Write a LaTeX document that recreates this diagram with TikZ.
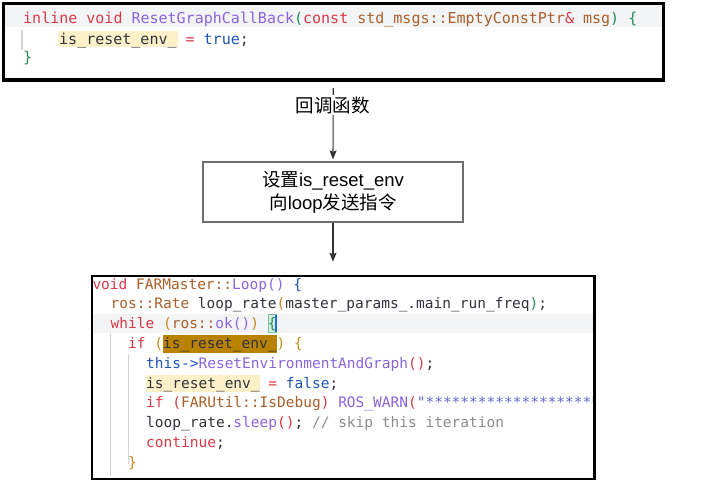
\documentclass[tikz,border=0pt]{standalone}
\usepackage{fontspec}
\setmainfont{Liberation Sans}
\newfontfamily\cjk{Noto Sans CJK SC}
\newfontfamily\codefont{DejaVu Sans Mono}
\usetikzlibrary{arrows.meta}
\definecolor{cdf}{RGB}{50,50,60}
\definecolor{ckw}{RGB}{215,58,73}
\definecolor{cfn}{RGB}{140,100,220}
\definecolor{cty}{RGB}{170,95,40}
\definecolor{cbl}{RGB}{30,85,180}
\definecolor{cgr}{RGB}{35,140,90}
\definecolor{cog}{RGB}{200,140,30}
\definecolor{cst}{RGB}{100,100,210}
\definecolor{ccm}{RGB}{140,140,140}
\definecolor{hldark}{RGB}{185,130,0}
\definecolor{hllight}{RGB}{252,240,200}
\definecolor{bandgray}{RGB}{243,244,246}
\definecolor{guidegray}{RGB}{210,210,214}
\definecolor{boxgray}{RGB}{110,110,110}
\definecolor{arrgray}{RGB}{50,50,50}
\definecolor{curblue}{RGB}{30,110,230}
\definecolor{bracegreen}{RGB}{215,240,220}
\newcommand\kw[1]{\textcolor{ckw}{#1}}
\newcommand\fn[1]{\textcolor{cfn}{#1}}
\newcommand\ty[1]{\textcolor{cty}{#1}}
\newcommand\bl[1]{\textcolor{cbl}{#1}}
\newcommand\gr[1]{\textcolor{cgr}{#1}}
\newcommand\og[1]{\textcolor{cog}{#1}}
\newcommand\st[1]{\textcolor{cst}{#1}}
\newcommand\cm[1]{\textcolor{ccm}{#1}}
\tikzset{
  codeA/.style={anchor=base west, inner sep=0pt, text=cdf, font=\codefont\fontsize{15}{20}\selectfont},
  codeB/.style={anchor=base west, inner sep=0pt, text=cdf, font=\codefont\fontsize{14.5}{19.8}\selectfont},
  codebox/.style={draw=black, inner sep=0pt},
  stepbox/.style={draw=boxgray, line width=1.2pt, inner sep=0pt, align=center, text=black,
    font=\fontsize{18.5}{23}\selectfont},
  guide/.style={draw=guidegray, line width=1pt},
  arr/.style={draw=arrgray, line width=1.1pt, -{Stealth[length=9pt,width=7pt,inset=1.5pt]}},
  lbl/.style={fill=white, inner sep=1pt, text=black, font=\cjk\fontsize{18.5}{22}\selectfont}
}
\begin{document}
\begin{tikzpicture}[x=1pt,y=-1pt]
\useasboundingbox (0,0) rectangle (716,498);
\fill[white] (0,0) rectangle (716,498);

% ---------- top code box ----------
\fill[bandgray] (5,5) rectangle (662,26.5);
\fill[hllight] (58,31) rectangle (178,47);
\draw[guide, line width=1.4pt] (22,30) -- (22,50);
\node[codeA] (t1) at (23,23.5) {\kw{inline void} \fn{ResetGraphCallBack}\gr{(}\kw{const} \ty{std\_msgs::EmptyConstPtr}\kw{\&} \ty{msg}\gr{)} \gr{\{}};
\node[codeA] (t2) at (59,44) {is\_reset\_env\_ \kw{=} \bl{true}\textcolor{cdf}{;}};
\node[codeA] (t3) at (23,62.5) {\gr{\}}};
\node[codebox, line width=3.3pt, minimum width=660pt, minimum height=76.7pt] (topbox) at (333.3,41.65) {};

% ---------- middle step box ----------
\node[stepbox, minimum width=260pt, minimum height=60pt] (mid) at (333,192)
  {{\cjk 设置}is\_reset\_env\\{\cjk 向}loop{\cjk 发送指令}};

% ---------- bottom code box ----------
\fill[bandgray] (93,314) rectangle (594,333);
\fill[hldark] (162.5,334.5) rectangle (277,352.5);
\fill[hllight] (145.5,375) rectangle (260,391.5);
\fill[bracegreen] (268,314.5) rectangle (276.5,332.5);
\draw[cgr!60, line width=0.6pt] (268,314.5) rectangle (276.5,332.5);
\draw[curblue, line width=1.6pt] (276,315) -- (276,332);
\draw[guide] (110.5,333.5) -- (110.5,476);
\draw[guide] (128.5,353.5) -- (128.5,464);
\begin{scope}
\clip (93.3,277.3) rectangle (593.2,477.7);
\node[codeB] (b1) at (92.3,289) {\kw{void} \ty{FARMaster::}\fn{Loop()} \bl{\{}};
\node[codeB] (b2) at (110.5,308.8) {\ty{ros::Rate} loop\_rate\og{(}master\_params\_.main\_run\_freq\gr{)};};
\node[codeB] (b3) at (110.5,328.6) {\kw{while} \og{(}\ty{ros::}\fn{ok()}\og{)} \gr{\{}};
\node[codeB] (b4) at (128,348.4) {\kw{if} \og{(}is\_reset\_env\_\og{)} \og{\{}};
\node[codeB] (b5) at (146,368.2) {\bl{this->}\fn{ResetEnvironmentAndGraph}\kw{()};};
\node[codeB] (b6) at (146,388) {is\_reset\_env\_ \kw{=} \bl{false};};
\node[codeB] (b7) at (146,407.8) {\kw{if (}\ty{FARUtil::IsDebug}\kw{)} \fn{ROS\_WARN}\kw{(}\st{"************************}};
\node[codeB] (b8) at (146,427.6) {loop\_rate.\fn{sleep}\kw{()}; \cm{// skip this iteration}};
\node[codeB] (b9) at (146,447.4) {\kw{continue};};
\node[codeB] (b10) at (128,467.2) {\og{\}}};
\end{scope}
\node[codebox, line width=2.5pt, minimum width=502.5pt, minimum height=203pt] (botbox) at (343.25,377.5) {};

% ---------- connectors ----------
\draw[arr, shorten <=6.5pt, shorten >=2pt] (topbox.south) -- (mid.north);
\node[lbl] (lab) at (332.5,105) {回调函数};
\draw[arr, shorten >=13pt] (mid.south) -- (mid.south |- botbox.north);
\end{tikzpicture}
\end{document}
